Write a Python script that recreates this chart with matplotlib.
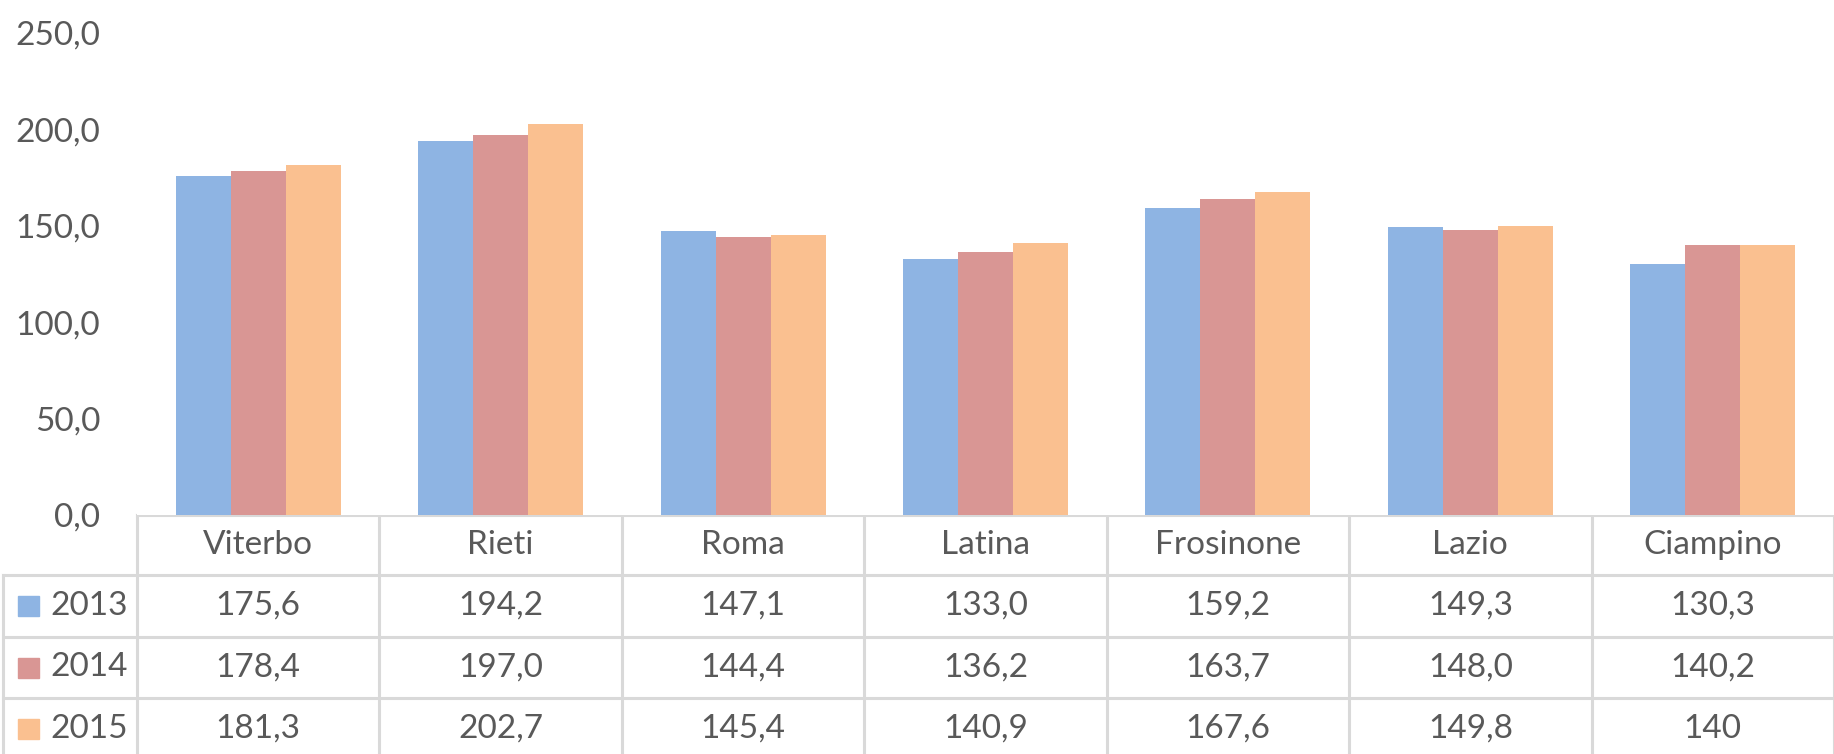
"""
Bar chart with data table: values for Lazio provinces, 2013-2015.
"""

import matplotlib
matplotlib.use("Agg")
import matplotlib.pyplot as plt
import numpy as np

categories = ["Viterbo", "Rieti", "Roma", "Latina", "Frosinone", "Lazio", "Ciampino"]
years = ["2013", "2014", "2015"]
v2013 = [175.6, 194.2, 147.1, 133.0, 159.2, 149.3, 130.3]
v2014 = [178.4, 197.0, 144.4, 136.2, 163.7, 148.0, 140.2]
v2015 = [181.3, 202.7, 145.4, 140.9, 167.6, 149.8, 140.0]
# text as written in the table (the last value has no decimals there)
labels2015 = ["181,3", "202,7", "145,4", "140,9", "167,6", "149,8", "140"]
yticks = [0, 50, 100, 150, 200, 250]

series = [v2013, v2014, v2015]
colors = ["#8EB4E3", "#D99694", "#FAC090"]
text_color = "#595959"
line_color = "#D9D9D9"
fs = 24

plt.rcParams["font.family"] = ["Lato", "DejaVu Sans"]

W, H = 1834, 754
fig = plt.figure(figsize=(W / 100, H / 100), dpi=100)

# pixel layout
x_left = 137          # left edge of plot / table category area
y_base = 515          # y of value 0
y_top = 33            # y of value 250
col_w = (W - x_left) / len(categories)

ax = fig.add_axes([x_left / W, (H - y_base) / H, (W - x_left) / W, (y_base - y_top) / H])
x = np.arange(len(categories))
bw = 0.227
for k, vals in enumerate(series):
    ax.bar(x + (k - 1) * bw, vals, width=bw, color=colors[k], label=years[k])
ax.set_xlim(-0.5, len(categories) - 0.5)
ax.set_ylim(0, 250)
ax.set_yticks(yticks)
ax.set_yticklabels([f"{t:.1f}".replace(".", ",") for t in yticks])
ax.tick_params(axis="y", length=0, pad=26.5, labelsize=fs, labelcolor=text_color)
ax.set_xticks([])
for s in ax.spines.values():
    s.set_visible(False)

# data table drawn underneath in pixel coordinates
tax = fig.add_axes([0, 0, 1, 1], zorder=-1)
tax.set_xlim(0, W)
tax.set_ylim(H, 0)
tax.axis("off")

row_y = [515, 575, 637, 698, 760]
lw = 2.2
tax.plot([x_left, W], [row_y[0], row_y[0]], color=line_color, lw=lw)
for yy in row_y[1:4]:
    tax.plot([3, W], [yy, yy], color=line_color, lw=lw)
for c in range(len(categories) + 1):
    xx = x_left + c * col_w
    tax.plot([xx, xx], [row_y[0], H], color=line_color, lw=lw)
tax.plot([3, 3], [row_y[1], H], color=line_color, lw=lw)

for i, cat in enumerate(categories):
    cx = x_left + (i + 0.5) * col_w
    tax.text(cx, (row_y[0] + row_y[1]) / 2, cat, ha="center", va="center",
             fontsize=fs, color=text_color)
    for k, vals in enumerate(series):
        if k == 2:
            s = labels2015[i]
        else:
            s = f"{vals[i]:.1f}".replace(".", ",")
        tax.text(cx, (row_y[k + 1] + row_y[k + 2]) / 2, s, ha="center", va="center",
                 fontsize=fs, color=text_color)

for k, yr in enumerate(years):
    cy = (row_y[k + 1] + row_y[k + 2]) / 2
    tax.add_patch(plt.Rectangle((18, cy - 10), 21, 20, color=colors[k]))
    tax.text(50, cy, yr, ha="left", va="center", fontsize=fs, color=text_color)

fig.savefig("out.png", dpi=100)
